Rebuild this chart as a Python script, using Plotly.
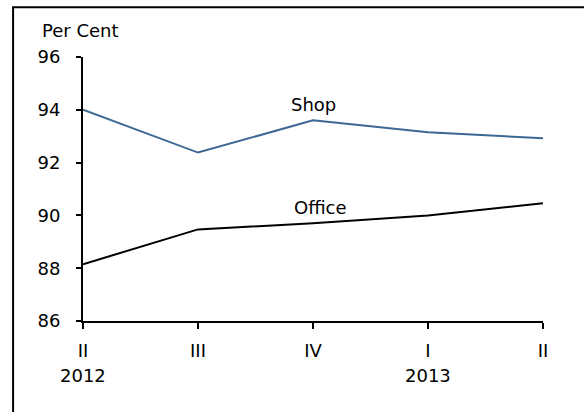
import plotly.graph_objects as go

# Quarterly series, per cent
quarters = ["II", "III", "IV", "I", "II"]
years = ["2012", "", "", "2013", ""]
shop = [94.0, 92.38, 93.6, 93.15, 92.92]
office = [88.15, 89.47, 89.7, 90.0, 90.46]
y_ticks = [86, 88, 90, 92, 94, 96]

FONT = "DejaVu Sans"
x = list(range(len(quarters)))

fig = go.Figure()
fig.add_trace(go.Scatter(x=x, y=shop, mode="lines", name="Shop",
                         line=dict(color="#3d6893", width=2)))
fig.add_trace(go.Scatter(x=x, y=office, mode="lines", name="Office",
                         line=dict(color="#000000", width=2)))

annotations = [
    dict(x=2, y=shop[2], xref="x", yref="y", text="Shop", showarrow=False,
         xanchor="center", yanchor="bottom", yshift=3,
         font=dict(family=FONT, size=18, color="#000")),
    dict(x=2, y=office[2], xref="x", yref="y", text="Office", showarrow=False,
         xanchor="center", yanchor="bottom", yshift=3, xshift=7,
         font=dict(family=FONT, size=18, color="#000")),
    dict(x=-0.094, y=1.10, xref="paper", yref="paper", text="Per Cent",
         showarrow=False, xanchor="left", yanchor="middle",
         font=dict(family=FONT, size=18, color="#000")),
]
for xi, yr in zip(x, years):
    if yr:
        annotations.append(dict(x=xi, y=-0.208, xref="x", yref="paper", text=yr,
                                showarrow=False, xanchor="center", yanchor="middle",
                                font=dict(family=FONT, size=18, color="#000")))

fig.update_layout(
    width=584, height=412,
    margin=dict(l=83, r=41, t=57, b=91),
    paper_bgcolor="white", plot_bgcolor="white",
    showlegend=False,
    annotations=annotations,
    shapes=[dict(type="rect", xref="paper", yref="paper",
                 x0=-0.152, x1=1.2, y0=-0.5, y1=1.188,
                 line=dict(color="#000", width=2), fillcolor="rgba(0,0,0,0)")],
    xaxis=dict(range=[0, 4], tickmode="array", tickvals=x, ticktext=quarters,
               showgrid=False, zeroline=False, showline=True,
               linecolor="#000", linewidth=2, ticks="outside", ticklen=6,
               tickwidth=1.5, tickcolor="#000", ticklabelstandoff=6,
               tickfont=dict(family=FONT, size=18, color="#000")),
    yaxis=dict(range=[86, 96], tickmode="array", tickvals=y_ticks,
               showgrid=False, zeroline=False, showline=True,
               linecolor="#000", linewidth=2, ticks="outside", ticklen=5,
               tickwidth=1.5, tickcolor="#000", ticklabelstandoff=12,
               tickfont=dict(family=FONT, size=18, color="#000")),
)

fig.write_html("out.html")
